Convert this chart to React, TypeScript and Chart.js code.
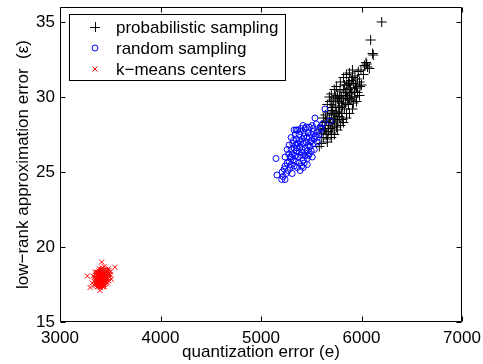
import React, { useEffect, useRef } from "react";
import { Chart, registerables } from "chart.js";

Chart.register(...registerables);

const FONT = "'Liberation Sans', Arial, Helvetica, sans-serif";

const xTicks = [3000, 4000, 5000, 6000, 7000];
const yTicks = [15, 20, 25, 30, 35];
const xRange = [3000, 7000];
const yRange = [15, 36];

const seriesNames = ["probabilistic sampling", "random sampling", "k\u2212means centers"];
const xTitle = "quantization error (e)";
const yTitle = "low\u2212rank approximation error  (\u03b5)";

const probX = [
  6201, 6091, 6117, 6110, 6052, 6078, 6030, 6060, 6045, 5968, 5935, 5960, 5985, 5902, 5920, 5890, 5870,
  5852, 5840, 5880, 5905, 5930, 5950, 5919, 5895, 5860, 5820, 5800, 5786, 5770, 5810, 5830, 5852, 5840,
  5760, 5740, 5720, 5700, 5687, 5710, 5730, 5750, 5780, 5800, 5760, 5720, 5700, 5680, 5660, 5650, 5637,
  5670, 5690, 5710, 5670, 5650, 5630, 5600, 5587, 5620, 5640, 5610, 5580, 5660, 5700, 5730, 5780, 5820,
  5870, 5900, 5940, 5980, 5850, 5800, 5760, 5740, 5715, 5690, 5745, 5880, 5910, 5935, 5830, 5865, 5780,
  5660, 5680, 5700, 5730, 5750, 5790, 5820, 5850, 5880, 5910, 5700, 5730, 5760, 5790, 5820, 5850, 5880,
  5910, 5950, 5980, 5620, 5640, 5660, 5600, 5750, 5770, 5810, 5880, 5960, 6000, 6020, 5995,
];
const probY = [
  35.0, 33.8, 32.8, 32.9, 32.2, 31.9, 32.1, 32.0, 32.3, 31.7, 31.4, 31.2, 30.7, 31.1, 30.9, 30.6, 31.0,
  30.8, 30.3, 30.2, 30.0, 30.4, 30.6, 29.6, 29.8, 29.9, 30.5, 30.0, 30.4, 29.7, 29.4, 29.2, 28.9, 29.6,
  30.1, 29.4, 29.8, 29.5, 29.7, 29.1, 28.8, 29.0, 28.7, 28.9, 28.4, 28.5, 28.9, 28.6, 29.0, 28.4, 28.3,
  28.1, 27.9, 28.0, 27.7, 27.5, 27.8, 27.6, 27.8, 27.3, 27.9, 28.1, 26.7, 27.2, 27.6, 28.2, 29.3, 29.8,
  29.5, 30.3, 30.8, 31.0, 30.1, 29.6, 29.9, 30.0, 29.3, 28.3, 28.6, 30.9, 31.3, 30.0, 30.8, 30.5, 30.0,
  29.5, 30.0, 30.2, 30.5, 30.7, 31.0, 31.3, 31.5, 31.6, 31.8, 27.3, 27.5, 27.8, 28.1, 28.3, 28.6, 28.9,
  29.2, 29.7, 30.1, 28.6, 28.8, 27.0, 26.9, 28.0, 29.0, 28.5, 29.9, 30.3, 30.8, 31.5, 31.8,
];

const randX = [
  5637, 5537, 5687, 5612, 5590, 5560, 5365, 5418, 5450, 5400, 5470, 5500, 5520, 5540, 5480, 5430, 5380,
  5350, 5323, 5410, 5450, 5500, 5530, 5560, 5470, 5420, 5390, 5360, 5330, 5300, 5350, 5380, 5410, 5440,
  5460, 5490, 5520, 5400, 5370, 5340, 5310, 5290, 5320, 5350, 5380, 5420, 5440, 5405, 5360, 5330, 5300,
  5280, 5260, 5239, 5149, 5159, 5206, 5239, 5220, 5250, 5270, 5230, 5290, 5310, 5460, 5480, 5500, 5430,
  5340, 5395, 5345, 5275, 5315, 5520, 5440, 5410, 5360, 5380, 5455, 5550, 5420, 5390, 5470, 5490, 5300,
  5260, 5280, 5300, 5330, 5480, 5510, 5240, 5210, 5430, 5460, 5510, 5530, 5560, 5580, 5600, 5390, 5350,
];
const randY = [
  29.2, 28.6, 28.4, 28.2, 28.0, 27.7, 27.8, 28.1, 28.0, 27.9, 27.6, 27.5, 27.7, 27.4, 27.3, 27.4, 27.5,
  27.2, 27.1, 27.2, 27.0, 27.1, 27.2, 27.3, 26.8, 26.9, 26.7, 26.9, 26.6, 26.5, 26.4, 26.3, 26.5, 26.6,
  26.4, 26.7, 26.9, 26.1, 26.0, 26.1, 26.2, 26.0, 25.8, 25.7, 25.6, 25.8, 26.1, 25.4, 25.3, 25.4, 25.5,
  25.7, 25.6, 26.0, 25.9, 24.8, 24.5, 24.5, 24.7, 24.9, 25.1, 25.2, 25.3, 24.9, 25.9, 26.2, 26.4, 27.6,
  27.5, 27.0, 26.8, 26.2, 26.9, 27.9, 27.9, 26.3, 26.6, 27.1, 27.3, 28.2, 25.3, 25.1, 26.1, 27.0, 26.0,
  26.5, 26.8, 27.3, 27.8, 28.0, 28.1, 25.4, 25.0, 25.6, 25.5, 26.0, 26.5, 27.0, 27.5, 27.9, 27.7, 27.8,
];

const kmX = [
  3272, 3415, 3547, 3299, 3398, 3420, 3410, 3430, 3400, 3440, 3390, 3450, 3380, 3425, 3405, 3460, 3370,
  3435, 3415, 3395, 3445, 3385, 3475, 3365, 3420, 3455, 3350, 3490, 3410, 3360, 3480, 3400, 3430, 3375,
  3440, 3470, 3345, 3495, 3405, 3385, 3465, 3355, 3425, 3395, 3450, 3412, 3438, 3378, 3418, 3448, 3402,
  3432, 3362, 3472, 3388, 3458, 3342, 3502, 3330, 3510, 3420, 3370, 3480, 3320, 3350, 3405, 3440, 3362,
  3390, 3485, 3400, 3410, 3420, 3430, 3440, 3390, 3380, 3450, 3460, 3370, 3415, 3425, 3435, 3445, 3405,
  3395, 3385, 3465, 3475, 3355, 3365, 3455, 3470, 3410, 3420, 3430, 3400, 3390, 3380, 3440, 3420, 3450,
  3460, 3410, 3395, 3375, 3365, 3480, 3490, 3500, 3345, 3355, 3425, 3445, 3435, 3415, 3405, 3428, 3442,
  3398,
];
const kmY = [
  18.07, 19.0, 18.65, 17.3, 17.1, 17.9, 18.0, 17.8, 17.85, 18.1, 17.7, 17.95, 18.0, 18.2, 17.6, 18.3, 17.8,
  17.5, 18.35, 18.15, 17.7, 17.5, 18.1, 18.1, 17.4, 18.5, 17.9, 18.2, 18.5, 17.6, 17.9, 18.3, 18.4, 18.3,
  17.35, 18.4, 17.7, 18.0, 17.3, 17.35, 17.8, 18.2, 17.65, 17.95, 18.2, 17.75, 17.95, 17.9, 18.1, 18.05, 18.05,
  18.25, 17.95, 17.6, 18.4, 17.55, 17.45, 18.35, 18.05, 17.85, 18.6, 17.35, 18.55, 17.6, 18.35, 17.45, 18.7, 17.45,
  18.55, 17.75, 17.95, 17.9, 18.05, 18.0, 17.85, 18.1, 17.75, 18.15, 18.05, 17.95, 17.8, 17.75, 18.15, 18.25, 18.2,
  17.6, 18.25, 18.2, 18.3, 17.8, 17.7, 17.9, 17.95, 17.55, 17.5, 17.6, 17.45, 17.45, 17.6, 18.45, 18.45, 18.35,
  17.7, 18.4, 18.35, 18.15, 18.3, 18.05, 18.45, 18.15, 18.0, 17.55, 17.35, 17.5, 17.4, 18.3, 17.7, 17.92, 18.3,
  17.78,
];

const toPts = (xs: number[], ys: number[]) => xs.map((x, i) => ({ x, y: ys[i] }));

const matlabFrame = {
  id: "matlabFrame",
  afterDatasetsDraw(chart: any) {
    const { ctx, chartArea: a, scales } = chart;
    const L = Math.round(a.left) + 0.5;
    const R = Math.round(a.right) - 0.5;
    const T = Math.round(a.top) + 0.5;
    const B = Math.round(a.bottom) - 0.5;
    const tl = 5;
    ctx.save();
    ctx.strokeStyle = "#000";
    ctx.lineWidth = 1;
    ctx.beginPath();
    ctx.rect(L, T, R - L, B - T);
    for (const v of xTicks) {
      const px = Math.round(scales.x.getPixelForValue(v)) + 0.5;
      ctx.moveTo(px, B);
      ctx.lineTo(px, B - tl);
      ctx.moveTo(px, T);
      ctx.lineTo(px, T + tl);
    }
    for (const v of yTicks) {
      const py = Math.round(scales.y.getPixelForValue(v)) + 0.5;
      ctx.moveTo(L, py);
      ctx.lineTo(L + tl, py);
      ctx.moveTo(R, py);
      ctx.lineTo(R - tl, py);
    }
    ctx.stroke();

    // legend
    const bx = 69.5, by = 14.5, bw = 216, bh = 66;
    ctx.fillStyle = "#fff";
    ctx.fillRect(bx, by, bw, bh);
    ctx.strokeRect(bx, by, bw, bh);
    const rows = [27, 48, 69];
    const mx = 95;
    ctx.font = `17px ${FONT}`;
    ctx.textBaseline = "middle";
    ctx.textAlign = "left";
    seriesNames.forEach((name, i) => {
      const cy = rows[i];
      ctx.beginPath();
      if (i === 0) {
        ctx.strokeStyle = "#000";
        ctx.moveTo(mx - 5, cy + 0.5);
        ctx.lineTo(mx + 5, cy + 0.5);
        ctx.moveTo(mx + 0.5, cy - 5);
        ctx.lineTo(mx + 0.5, cy + 5);
      } else if (i === 1) {
        ctx.strokeStyle = "#0000ff";
        ctx.arc(mx, cy, 3, 0, Math.PI * 2);
      } else {
        ctx.strokeStyle = "#ff0000";
        ctx.moveTo(mx - 2.5, cy - 2.5);
        ctx.lineTo(mx + 2.5, cy + 2.5);
        ctx.moveTo(mx + 2.5, cy - 2.5);
        ctx.lineTo(mx - 2.5, cy + 2.5);
      }
      ctx.stroke();
      ctx.fillStyle = "#000";
      ctx.fillText(name, 116, cy + 1);
    });
    ctx.restore();
  },
};

export default function App() {
  const ref = useRef<HTMLCanvasElement | null>(null);
  useEffect(() => {
    if (!ref.current) return;
    const font = { family: FONT, size: 17 };
    const chart = new Chart(ref.current, {
      type: "scatter",
      data: {
        datasets: [
          {
            label: seriesNames[1],
            data: toPts(randX, randY),
            pointStyle: "circle",
            pointRadius: 3,
            borderColor: "#0000ff",
            backgroundColor: "rgba(0,0,0,0)",
            borderWidth: 1,
          },
          {
            label: seriesNames[0],
            data: toPts(probX, probY),
            pointStyle: "cross",
            pointRadius: 5,
            borderColor: "#000000",
            backgroundColor: "rgba(0,0,0,0)",
            borderWidth: 1,
          },
          {
            label: seriesNames[2],
            data: toPts(kmX, kmY),
            pointStyle: "crossRot",
            pointRadius: 3.5,
            borderColor: "#ff0000",
            backgroundColor: "rgba(0,0,0,0)",
            borderWidth: 1,
          },
        ],
      },
      options: {
        responsive: false,
        animation: false,
        devicePixelRatio: 1,
        layout: { padding: { top: 7, right: 21, left: 0, bottom: 0 } },
        plugins: { legend: { display: false }, tooltip: { enabled: false } },
        scales: {
          x: {
            type: "linear",
            min: xRange[0],
            max: xRange[1],
            grid: { display: false, drawTicks: false },
            border: { display: false },
            ticks: { font, color: "#000", padding: 6, maxRotation: 0, callback: (v: any) => String(v) },
            afterBuildTicks: (s: any) => {
              s.ticks = xTicks.map((v) => ({ value: v }));
            },
            afterFit: (s: any) => {
              s.height = 42;
              s.paddingLeft = 0;
              s.paddingRight = 0;
            },
            title: { display: true, text: xTitle, font, color: "#000", padding: { top: 0, bottom: 1 } },
          },
          y: {
            type: "linear",
            min: yRange[0],
            max: yRange[1],
            grid: { display: false, drawTicks: false },
            border: { display: false },
            ticks: { font, color: "#000", padding: 5, callback: (v: any) => String(v) },
            afterBuildTicks: (s: any) => {
              s.ticks = yTicks.map((v) => ({ value: v }));
            },
            afterFit: (s: any) => {
              s.width = 60;
              s.paddingTop = 0;
              s.paddingBottom = 0;
            },
            title: { display: true, text: yTitle, font, color: "#000", padding: { top: 13, bottom: 0 } },
          },
        },
      },
      plugins: [matlabFrame],
    });
    return () => chart.destroy();
  }, []);
  return (
    <div style={{ position: "absolute", left: 0, top: 0, width: 483, height: 364, background: "#fff" }}>
      <canvas ref={ref} width={483} height={364} style={{ display: "block" }} />
    </div>
  );
}
